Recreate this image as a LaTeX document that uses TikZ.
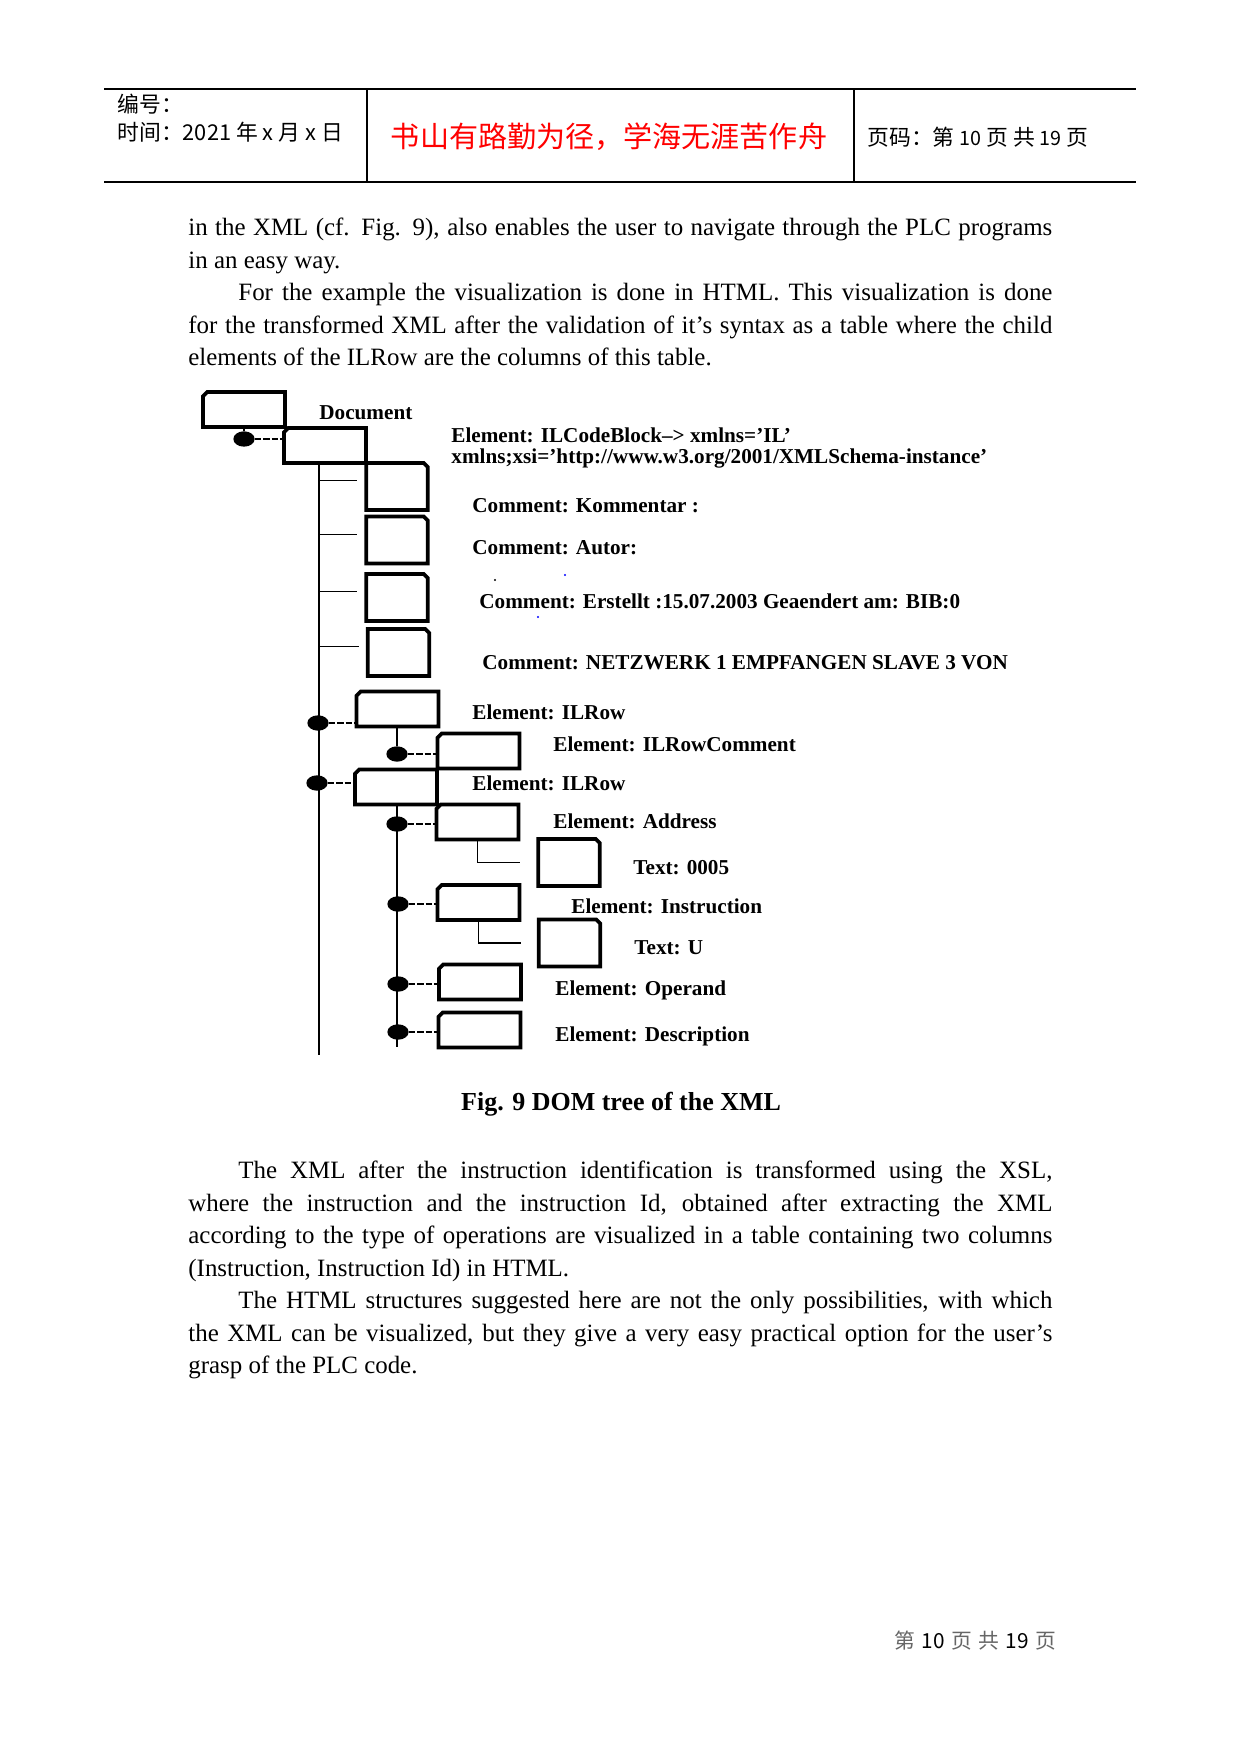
\documentclass[tikz,border=0pt]{standalone}
\usepackage{fontspec}
\setmainfont{Liberation Serif}
\newfontfamily\cjk{Noto Sans CJK SC}
\usetikzlibrary{shapes.geometric}
\newlength\fullwd \setlength\fullwd{146.2mm}
\newlength\indwd \setlength\indwd{137.75mm}

\begin{document}
\begin{tikzpicture}[x=0.16922mm,y=-0.16922mm,
    boxline/.style={line width=1.8pt,line join=miter},
    elembox/.style={rectangle,minimum width=13.7mm,minimum height=5.75mm,inner sep=0pt,
        append after command={\pgfextra{\draw[boxline] ([xshift=0.7mm]\tikzlastnode.north west)
            -- (\tikzlastnode.north east) |- (\tikzlastnode.south west)
            -- ([yshift=-0.7mm]\tikzlastnode.north west) -- cycle;}}},
    leafbox/.style={rectangle,minimum width=10.3mm,minimum height=7.8mm,inner sep=0pt,
        append after command={\pgfextra{\draw[boxline] ([xshift=-0.7mm]\tikzlastnode.north east)
            -- (\tikzlastnode.north west) |- (\tikzlastnode.south east)
            -- ([yshift=-0.7mm]\tikzlastnode.north east) -- cycle;}}},
    knob/.style={ellipse,fill=black,minimum width=3.6mm,minimum height=2.6mm,inner sep=0pt},
    lbl/.style={anchor=base west,inner sep=0pt,font=\fontsize{10.2}{12}\selectfont\bfseries},
    body/.style={anchor=base west,inner sep=0pt,font=\fontsize{12}{14}\selectfont},
    head/.style={anchor=west,inner sep=0pt,font=\cjk\fontsize{10.5}{12}\selectfont},
    link/.style={line width=0.5pt,dash pattern=on 3pt off 1pt},
    twig/.style={line width=0.5pt}]
        \path[use as bounding box,fill=white] (0,0) rectangle (1241,1754);

        \draw [line width=0.7pt] (104,89) -- (1136,89);
        \draw [line width=0.7pt] (104,182) -- (1136,182);
        \draw [line width=1pt] (367,89) -- (367,182);
        \draw [line width=0.5pt] (854,89) -- (854,182);
        \node [head] (hno) at (117,104) {编号：};
        \node [head] (htime) at (117,132) {时间：2021 年 x 月 x 日};
        \node [text=red,font=\cjk\fontsize{14}{16}\selectfont] (hmotto) at (609,137) {书山有路勤为径，学海无涯苦作舟};
        \node [head] (hpage) at (867,137) {页码：第 {\fontsize{9.5}{12}\selectfont 10} 页 共 {\fontsize{9.5}{12}\selectfont 19} 页};

        \node [body] (p1) at (188,236) {\makebox[\fullwd][s]{in the XML (cf. Fig. 9), also enables the user to navigate through the PLC programs}};
        \node [body] (p2) at (188,269) {in an easy way.};
        \node [body] (p3) at (238,301) {\makebox[\indwd][s]{For the example the visualization is done in HTML. This visualization is done}};
        \node [body] (p4) at (188,334) {\makebox[\fullwd][s]{for the transformed XML after the validation of it's syntax as a table where the child}};
        \node [body] (p5) at (188,366) {elements of the ILRow are the columns of this table.};

        \node [elembox] (doc) at (244,409.5) {};
        \node [elembox] (blk) at (325,445.5) {};
        \node [leafbox] (c1) at (397,486.5) {};
        \node [leafbox] (c2) at (397,540) {};
        \node [leafbox] (c3) at (397,597.5) {};
        \node [leafbox] (c4) at (398.5,652.5) {};
        \node [elembox] (row1) at (397.5,709) {};
        \node [elembox] (rowc) at (478.5,751) {};
        \node [elembox] (row2) at (396,787) {};
        \node [elembox] (adr) at (477.5,822) {};
        \node [leafbox] (t1) at (569,862.5) {};
        \node [elembox] (ins) at (478.5,902.5) {};
        \node [leafbox] (t2) at (569.5,943) {};
        \node [elembox] (opd) at (480,982) {};
        \node [elembox] (dsc) at (479.5,1030) {};

        \node [knob] (k0) at (244,439) {};
        \node [knob] (k1) at (318,723) {};
        \node [knob] (k2) at (397,754) {};
        \node [knob] (k3) at (317,783) {};
        \node [knob] (k4) at (397,824) {};
        \node [knob] (k5) at (398,904) {};
        \node [knob] (k6) at (398,984) {};
        \node [knob] (k7) at (398,1032) {};

        \coordinate (trunktop) at (319,462);
        \coordinate (trunkend) at (319,1055);
        \coordinate (subend) at (397,1047);
        \draw [line width=1pt] (trunktop) -- (trunkend);
        \draw [line width=1pt] (k4 |- row2.south) -- (subend);
        \draw [line width=1pt] (doc.south) -- (k0);
        \draw [line width=1.3pt] (k2 |- row1.south) -- (k2);

        \path ([yshift=1mm]c1.west) coordinate (c1in);
        \path ([yshift=1mm]c2.west) coordinate (c2in);
        \path ([yshift=1mm]c3.west) coordinate (c3in);
        \path ([yshift=1mm]c4.west) coordinate (c4in);
        \draw [twig] (c1in -| trunktop) -- ([xshift=-1.5mm]c1in);
        \draw [twig] (c2in -| trunktop) -- ([xshift=-1.5mm]c2in);
        \draw [twig] (c3in -| trunktop) -- ([xshift=-1.5mm]c3in);
        \draw [twig] (c4in -| trunktop) -- ([xshift=-1.5mm]c4in);

        \draw [link] (k0) -- (k0 -| blk.west);
        \draw [link] (k1) -- (k1 -| row1.west);
        \draw [link] (k2) -- (k2 -| rowc.west);
        \draw [link] (k3) -- (k3 -| row2.west);
        \draw [link] (k4) -- (k4 -| adr.west);
        \draw [link] (k5) -- (k5 -| ins.west);
        \draw [link] (k6) -- (k6 -| opd.west);
        \draw [link] (k7) -- (k7 -| dsc.west);
        \draw [twig] (adr.south) |- ([xshift=-3mm]t1.west);
        \draw [twig] (ins.south) |- ([xshift=-3mm]t2.west);

        \node [lbl] (ldoc) at (319,420) {Document};
        \node [lbl] (lblk) at (451,443) {Element: ILCodeBlock--> xmlns='IL'};
        \node [lbl] (lxsi) at (451,464) {xmlns;xsi='http://www.w3.org/2001/XMLSchema-instance'};
        \node [lbl] (lc1) at (472,512) {Comment: Kommentar :};
        \node [lbl] (lc2) at (472,554) {Comment: Autor:};
        \node [lbl] (lc3) at (479,608) {Comment: Erstellt :15.07.2003 Geaendert am: BIB:0};
        \node [lbl] (lc4) at (482,669) {Comment: NETZWERK 1 EMPFANGEN SLAVE 3 VON};
        \node [lbl] (lrow1) at (472,719) {Element: ILRow};
        \node [lbl] (lrowc) at (553,751) {Element: ILRowComment};
        \node [lbl] (lrow2) at (472,790) {Element: ILRow};
        \node [lbl] (ladr) at (553,828) {Element: Address};
        \node [lbl] (lt1) at (633,874) {Text: 0005};
        \node [lbl] (lins) at (571,913) {Element: Instruction};
        \node [lbl] (lt2) at (634,954) {Text: U};
        \node [lbl] (lopd) at (555,995) {Element: Operand};
        \node [lbl] (ldsc) at (555,1041) {Element: Description};

        \fill [black] (495,580) circle[radius=0.2mm];
        \fill [blue] (565,575) circle[radius=0.2mm];
        \fill [blue] (538,617) circle[radius=0.2mm];

        \node [anchor=base,font=\fontsize{12.5}{14}\selectfont\bfseries] (cap) at (621,1110) {Fig. 9 DOM tree of the XML};

        \node [body] (q1) at (238,1178) {\makebox[\indwd][s]{The XML after the instruction identification is transformed using the XSL,}};
        \node [body] (q2) at (188,1211) {\makebox[\fullwd][s]{where the instruction and the instruction Id, obtained after extracting the XML}};
        \node [body] (q3) at (188,1243) {\makebox[\fullwd][s]{according to the type of operations are visualized in a table containing two columns}};
        \node [body] (q4) at (188,1276) {(Instruction, Instruction Id) in HTML.};
        \node [body] (q5) at (238,1308) {\makebox[\indwd][s]{The HTML structures suggested here are not the only possibilities, with which}};
        \node [body] (q6) at (188,1341) {\makebox[\fullwd][s]{the XML can be visualized, but they give a very easy practical option for the user's}};
        \node [body] (q7) at (188,1373) {grasp of the PLC code.};

        \node [anchor=west,inner sep=0pt,font=\cjk\fontsize{10}{12}\selectfont] (foot) at (894,1641)
            {{\color{black!60}第}\hspace{1.1mm}10\hspace{1.1mm}{\color{black!60}页}\hspace{1.1mm}{\color{black!60}共}\hspace{1.1mm}19\hspace{1.1mm}{\color{black!60}页}};
\end{tikzpicture}
\end{document}
